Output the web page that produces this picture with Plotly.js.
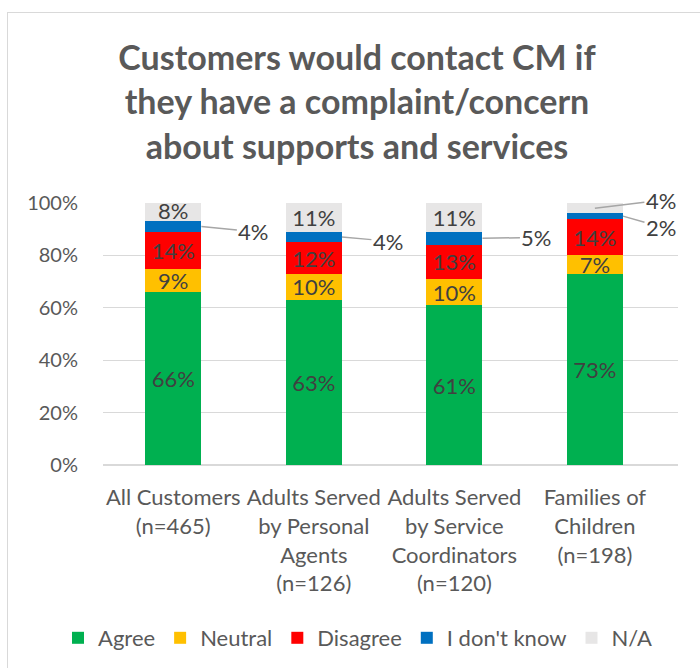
<!DOCTYPE html>
<html>
<head>
<meta charset="utf-8">
<script src="https://cdn.plot.ly/plotly-3.0.1.min.js"></script>
<style>
  html, body { margin: 0; padding: 0; background: #fff; overflow: hidden; }
  #wrap { position: relative; width: 700px; height: 668px; overflow: hidden; }
  #chart { position: absolute; left: 0; top: 0; width: 700px; height: 668px; }
  #frame { position: absolute; left: 7px; top: 12px; width: 720px; height: 720px;
           border: 1px solid #d9d9d9; pointer-events: none; box-sizing: border-box; }
</style>
</head>
<body>
<div id="wrap">
  <div id="chart"></div>
  <div id="frame"></div>
</div>
<script>
const categories = [
  "All Customers<br>(n=465)",
  "Adults Served<br>by Personal<br>Agents<br>(n=126)",
  "Adults Served<br>by Service<br>Coordinators<br>(n=120)",
  "Families of<br>Children<br>(n=198)"
];
const agree    = [66, 63, 61, 73];
const neutral  = [9, 10, 10, 7];
const disagree = [14, 12, 13, 14];
const dontKnow = [4, 4, 5, 2];
const na       = [8, 11, 11, 4];
const yTicks   = [0, 20, 40, 60, 80, 100];

const FONT = "Lato, 'Open Sans', sans-serif";
const labelColor = "#404040";

function pct(arr, skip) {
  return arr.map((v, i) => (skip && skip.includes(i)) ? "" : v + "%");
}

const series = [
  { name: "Agree", y: agree, color: "#00B050", text: pct(agree) },
  { name: "Neutral", y: neutral, color: "#FFC000", text: pct(neutral) },
  { name: "Disagree", y: disagree, color: "#FF0000", text: pct(disagree) },
  { name: "I don't know", y: dontKnow, color: "#0070C0", text: pct(dontKnow, [0,1,2,3]) },
  { name: "N/A", y: na, color: "#E7E6E6", text: pct(na, [3]) }
];

const traces = series.map(s => ({
  type: "bar",
  name: s.name,
  x: categories,
  y: s.y,
  width: 0.4,
  marker: { color: s.color },
  text: s.text,
  textposition: "inside",
  insidetextanchor: "middle",
  constraintext: "none",
  textangle: 0,
  textfont: { family: FONT, size: 22, color: labelColor },
  hoverinfo: "skip"
}));

function cum(i, upto) {
  const parts = [agree, neutral, disagree, dontKnow, na];
  let s = 0;
  for (let k = 0; k < upto; k++) s += parts[k][i];
  return s;
}
const callouts = [
  { x: 0.2, y: cum(0, 3) + dontKnow[0] / 2, text: dontKnow[0] + "%", ax: 52, ay: 5 },
  { x: 1.2, y: cum(1, 3) + dontKnow[1] / 2, text: dontKnow[1] + "%", ax: 46, ay: 4 },
  { x: 2.2, y: cum(2, 3) + dontKnow[2] / 2, text: dontKnow[2] + "%", ax: 54, ay: -1 },
  { x: 3.0, y: cum(3, 4) + na[3] / 2, text: na[3] + "%", ax: 66, ay: -8 },
  { x: 3.2, y: cum(3, 3) + dontKnow[3] / 2, text: dontKnow[3] + "%", ax: 38, ay: 11 }
];

const annotations = callouts.map(c => ({
  x: c.x, y: c.y, xref: "x", yref: "y",
  text: c.text,
  showarrow: true, arrowhead: 0, arrowwidth: 1.5, arrowcolor: "#a6a6a6",
  ax: c.ax, ay: c.ay, standoff: 0,
  font: { family: FONT, size: 22, color: labelColor }
}));

const layout = {
  width: 700, height: 668,
  margin: { l: 103, r: 22, t: 203, b: 203, autoexpand: false },
  paper_bgcolor: "#ffffff",
  plot_bgcolor: "#ffffff",
  barmode: "stack",
  title: {
    text: "Customers would contact CM if<br>they have a complaint/concern<br>about supports and services",
    font: { family: FONT, size: 34, color: "#595959", weight: "bold" },
    x: 0.51, xanchor: "center", xref: "container",
    y: 0.895, yanchor: "top", yref: "container"
  },
  xaxis: {
    type: "category",
    tickfont: { family: FONT, size: 22, color: "#595959" },
    ticks: "outside", ticklen: 13, tickcolor: "rgba(0,0,0,0)",
    showline: false, showgrid: false, zeroline: false,
    fixedrange: true
  },
  yaxis: {
    range: [0, 100],
    tickvals: yTicks,
    ticktext: yTicks.map(v => v + "%"),
    tickfont: { family: FONT, size: 20, color: "#595959" },
    ticks: "outside", ticklen: 20, tickcolor: "rgba(0,0,0,0)",
    showgrid: true, gridcolor: "#d9d9d9", gridwidth: 1.3,
    zeroline: true, zerolinecolor: "#d9d9d9", zerolinewidth: 1.3,
    showline: false, fixedrange: true
  },
  legend: {
    orientation: "h",
    xref: "paper", yref: "paper",
    x: (58 - 103) / 575, xanchor: "left",
    y: -(638 - 465) / 262, yanchor: "middle",
    font: { family: FONT, size: 22, color: "#595959" },
    traceorder: "normal",
    itemwidth: 30
  },
  annotations: annotations,
  showlegend: true
};

Plotly.newPlot("chart", traces, layout, { displayModeBar: false, staticPlot: true });
</script>
</body>
</html>
